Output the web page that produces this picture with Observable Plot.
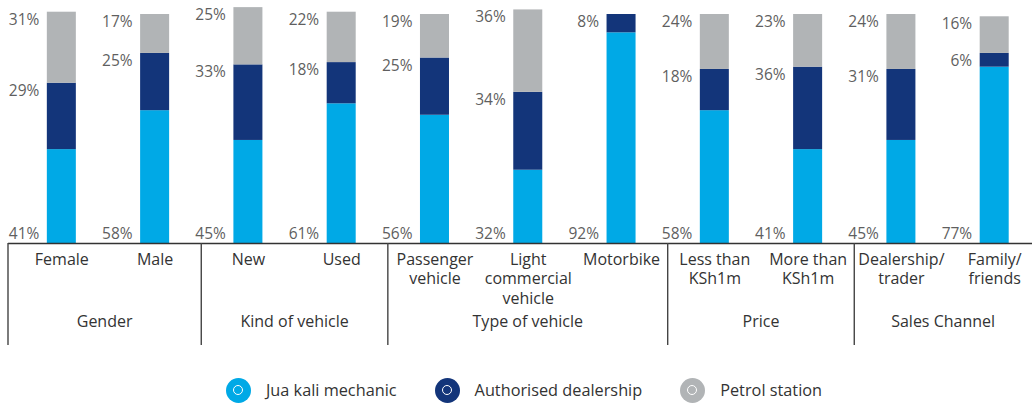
<!DOCTYPE html>
<html>
<head>
<meta charset="utf-8">
<script src="https://cdn.jsdelivr.net/npm/d3@7"></script>
<script src="https://cdn.jsdelivr.net/npm/@observablehq/plot@0.6"></script>
<style>
  html, body { margin: 0; padding: 0; background: #fff; }
  #chart { width: 1032px; }
  #legend { display: flex; justify-content: center; align-items: center; gap: 38px; height: 80px; padding-left: 16px; box-sizing: border-box; width: 1032px; font-family: "Open Sans", sans-serif; font-size: 16.3px; color: #333; }
  .item { display: flex; align-items: center; gap: 15px; }
  .dot { position: relative; width: 25px; height: 25px; border-radius: 50%; display: inline-block; }
  .dot::after { content: ""; position: absolute; left: 50%; top: 50%; width: 8px; height: 8px; margin: -5.5px 0 0 -5.5px; border: 1.5px solid #fff; border-radius: 50%; }
</style>
</head>
<body>
<div id="chart"></div>
<div id="legend"></div>
<script>
const categories = ["Female", "Male", "New", "Used", "Passenger vehicle", "Light commercial vehicle", "Motorbike", "Less than KSh1m", "More than KSh1m", "Dealership/ trader", "Family/ friends"];
const categoryLabels = ["Female", "Male", "New", "Used", "Passenger\nvehicle", "Light\ncommercial\nvehicle", "Motorbike", "Less than\nKSh1m", "More than\nKSh1m", "Dealership/\ntrader", "Family/\nfriends"];
const groupNames = ["Gender", "Kind of vehicle", "Type of vehicle", "Price", "Sales Channel"];
const groupSizes = [2, 2, 3, 2, 2];
const seriesNames = ["Jua kali mechanic", "Authorised dealership", "Petrol station"];
const seriesColors = ["#00a9e6", "#13357a", "#b1b4b6"];
const juaKali    = [41, 58, 45, 61, 56, 32, 92, 58, 41, 45, 77];
const authorised = [29, 25, 33, 18, 25, 34,  8, 18, 36, 31,  6];
const petrol     = [31, 17, 25, 22, 19, 36,  0, 24, 23, 24, 16];

const seriesValues = [juaKali, authorised, petrol];
const data = seriesNames.flatMap((s, si) =>
  categories.map((c, ci) => ({category: c, series: s, value: seriesValues[si][ci]})));

const BW = 29;      // bar width in px (derived from band scale below)
const LABEL_GAP = 8;

function tableMark(index, scales, values, dims) {
  const x = scales.x;
  const bw = x.bandwidth ? x.bandwidth() : BW;
  const step = x.step ? x.step() : 93.3;
  const y0 = dims.height - dims.marginBottom;
  const g = d3.create("svg:g");
  const edges = [dims.marginLeft];
  let start = 0;
  groupSizes.forEach((n, gi) => {
    const last = categories[start + n - 1];
    edges.push(gi === groupSizes.length - 1 ? dims.width - dims.marginRight : x(last) + bw / 2 + step / 2);
    start += n;
  });
  edges.slice(0, -1).forEach(e => {
    g.append("line").attr("x1", e).attr("x2", e).attr("y1", y0).attr("y2", y0 + 102)
      .attr("stroke", "#444").attr("stroke-width", 1.4);
  });
  groupNames.forEach((name, gi) => {
    g.append("text").attr("x", (edges[gi] + edges[gi + 1]) / 2).attr("y", y0 + 83.5)
      .attr("text-anchor", "middle").attr("font-size", 16).attr("fill", "#333").text(name);
  });
  return g.node();
}

const chart = Plot.plot({
  width: 1032,
  height: 350,
  marginTop: 14,
  marginBottom: 107,
  marginLeft: 8,
  marginRight: 0,
  style: {fontFamily: "'Open Sans', sans-serif", background: "#fff"},
  x: {type: "band", domain: categories, paddingInner: 0.689, paddingOuter: 0.333, align: 0.625, round: false, axis: null},
  y: {domain: [0, 100], axis: null},
  color: {domain: seriesNames, range: seriesColors},
  marks: [
    Plot.barY(data, {x: "category", y: "value", fill: "series"}),
    Plot.ruleY([0], {stroke: "#333", strokeWidth: 1.3}),
    // labels at the top of the upper segments
    Plot.text(data, Plot.stackY2({
      x: "category", y: "value", z: "series",
      text: d => (d.series === seriesNames[0] || d.value === 0) ? "" : d.value + "%",
      textAnchor: "end", lineAnchor: "top", dx: -(BW / 2 + LABEL_GAP), dy: 1.5,
      fontSize: 15.5, fill: "#5f5f5f"
    })),
    // labels of the bottom segment, at the baseline
    Plot.text(data.filter(d => d.series === seriesNames[0]), {
      x: "category", text: d => d.value + "%", frameAnchor: "bottom",
      textAnchor: "end", lineAnchor: "bottom", dx: -(BW / 2 + LABEL_GAP), dy: -5,
      fontSize: 15.5, fill: "#5f5f5f"
    }),
    // category labels
    Plot.text(categories, {
      x: d => d, text: (d, i) => categoryLabels[i], frameAnchor: "bottom",
      lineAnchor: "top", dy: 8, fontSize: 16, lineHeight: 1.2, fill: "#333"
    }),
    tableMark
  ]
});
document.getElementById("chart").appendChild(chart);

const legend = document.getElementById("legend");
seriesNames.forEach((s, i) => {
  const item = document.createElement("div");
  item.className = "item";
  const dot = document.createElement("span");
  dot.className = "dot";
  dot.style.background = seriesColors[i];
  item.appendChild(dot);
  item.appendChild(document.createTextNode(s));
  legend.appendChild(item);
});
</script>
</body>
</html>
